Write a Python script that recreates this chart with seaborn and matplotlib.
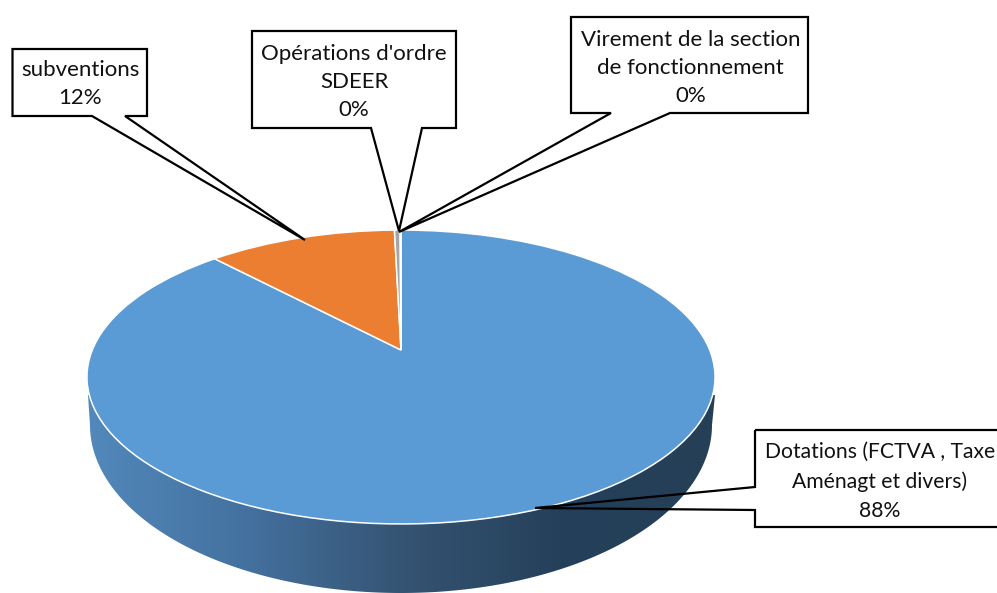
import numpy as np
import seaborn as sns
import matplotlib.pyplot as plt
from matplotlib.patches import Polygon
from matplotlib.transforms import Transform

categories = ["Dotations (FCTVA , Taxe\nAménagt et divers)", "subventions",
              "Opérations d'ordre\nSDEER", "Virement de la section\nde fonctionnement"]
values = [88.0, 11.6, 0.35, 0.05]
colors = ["#5B9BD5", "#EB7E30", "#A5A5A5", "#FFC000"]
side_colors = ["#5288bb", "#44719f", "#355473", "#25405a", "#243f56"]

sns.set_theme(style="white")
plt.rcParams["font.family"] = ["Lato", "DejaVu Sans"]


# tilted disc: maps the unit circle of the pie onto the top face, in picture pixels
class Tilt(Transform):
    input_dims = 2
    output_dims = 2
    is_affine = False

    def transform_non_affine(self, xy):
        xy = np.asarray(xy)
        k = 1 + 0.1837 * xy[:, 1]
        return np.column_stack([401 + 308.7 * xy[:, 0] / k, 350 - 142 * xy[:, 1] / k])


fig = plt.figure(figsize=(9.97, 5.93), dpi=100)
ax = fig.add_axes([0, 0, 1, 1])

# side of the disc, gradient clipped to the lower outline
t = np.linspace(np.pi, 0, 200)
outline = np.column_stack([401 + 311 * np.cos(t), 425 + 168 * np.sin(t)])
outline = np.vstack([[88, 395], outline, [715, 395]])
side = Polygon(outline, closed=True, facecolor="none", edgecolor="none")
ax.add_patch(side)
grad = ax.imshow(np.linspace(0, 1, 256)[None, :], extent=(88, 715, 600, 380), aspect="auto",
                 cmap=sns.blend_palette(side_colors, as_cmap=True), zorder=1)
grad.set_clip_path(side)

wedges, _ = ax.pie(values, colors=colors, startangle=90, counterclock=False,
                   wedgeprops={"edgecolor": "white", "linewidth": 1.1})
tilt = Tilt()
for w in wedges:
    w.set_transform(tilt + ax.transData)
    w.set_zorder(2)

# callouts: box outline with its leader
callouts = [
    [(755, 430), (1010, 430), (1010, 527), (755, 527), (755, 510), (535, 508), (755, 487)],
    [(12.5, 49), (147, 49), (147, 116), (125, 116), (305, 240), (92, 116), (12.5, 116)],
    [(252, 31), (456, 31), (456, 128), (422, 128), (399, 231), (371, 128), (252, 128)],
    [(571, 17), (808, 17), (808, 113), (670, 113), (399, 232), (611, 113), (571, 113)],
]
text_pos = [(880, 481.5), (80, 83.5), (354, 82.5), (690.5, 67.5)]
text_sizes = [15.2, 16, 16, 16]

for cat, val, box, pos, size in zip(categories, values, callouts, text_pos, text_sizes):
    ax.add_patch(Polygon(box, closed=True, fill=False, edgecolor="black", linewidth=1.6, zorder=3))
    ax.text(pos[0], pos[1], f"{cat}\n{val:.0f}%", ha="center", va="center", fontsize=size,
            color="#111111", linespacing=1.58 if size < 16 else 1.5, zorder=4)

ax.set_aspect("auto")
ax.set_xlim(0, 997)
ax.set_ylim(593, 0)
ax.axis("off")

fig.savefig("out.png", dpi=100)
